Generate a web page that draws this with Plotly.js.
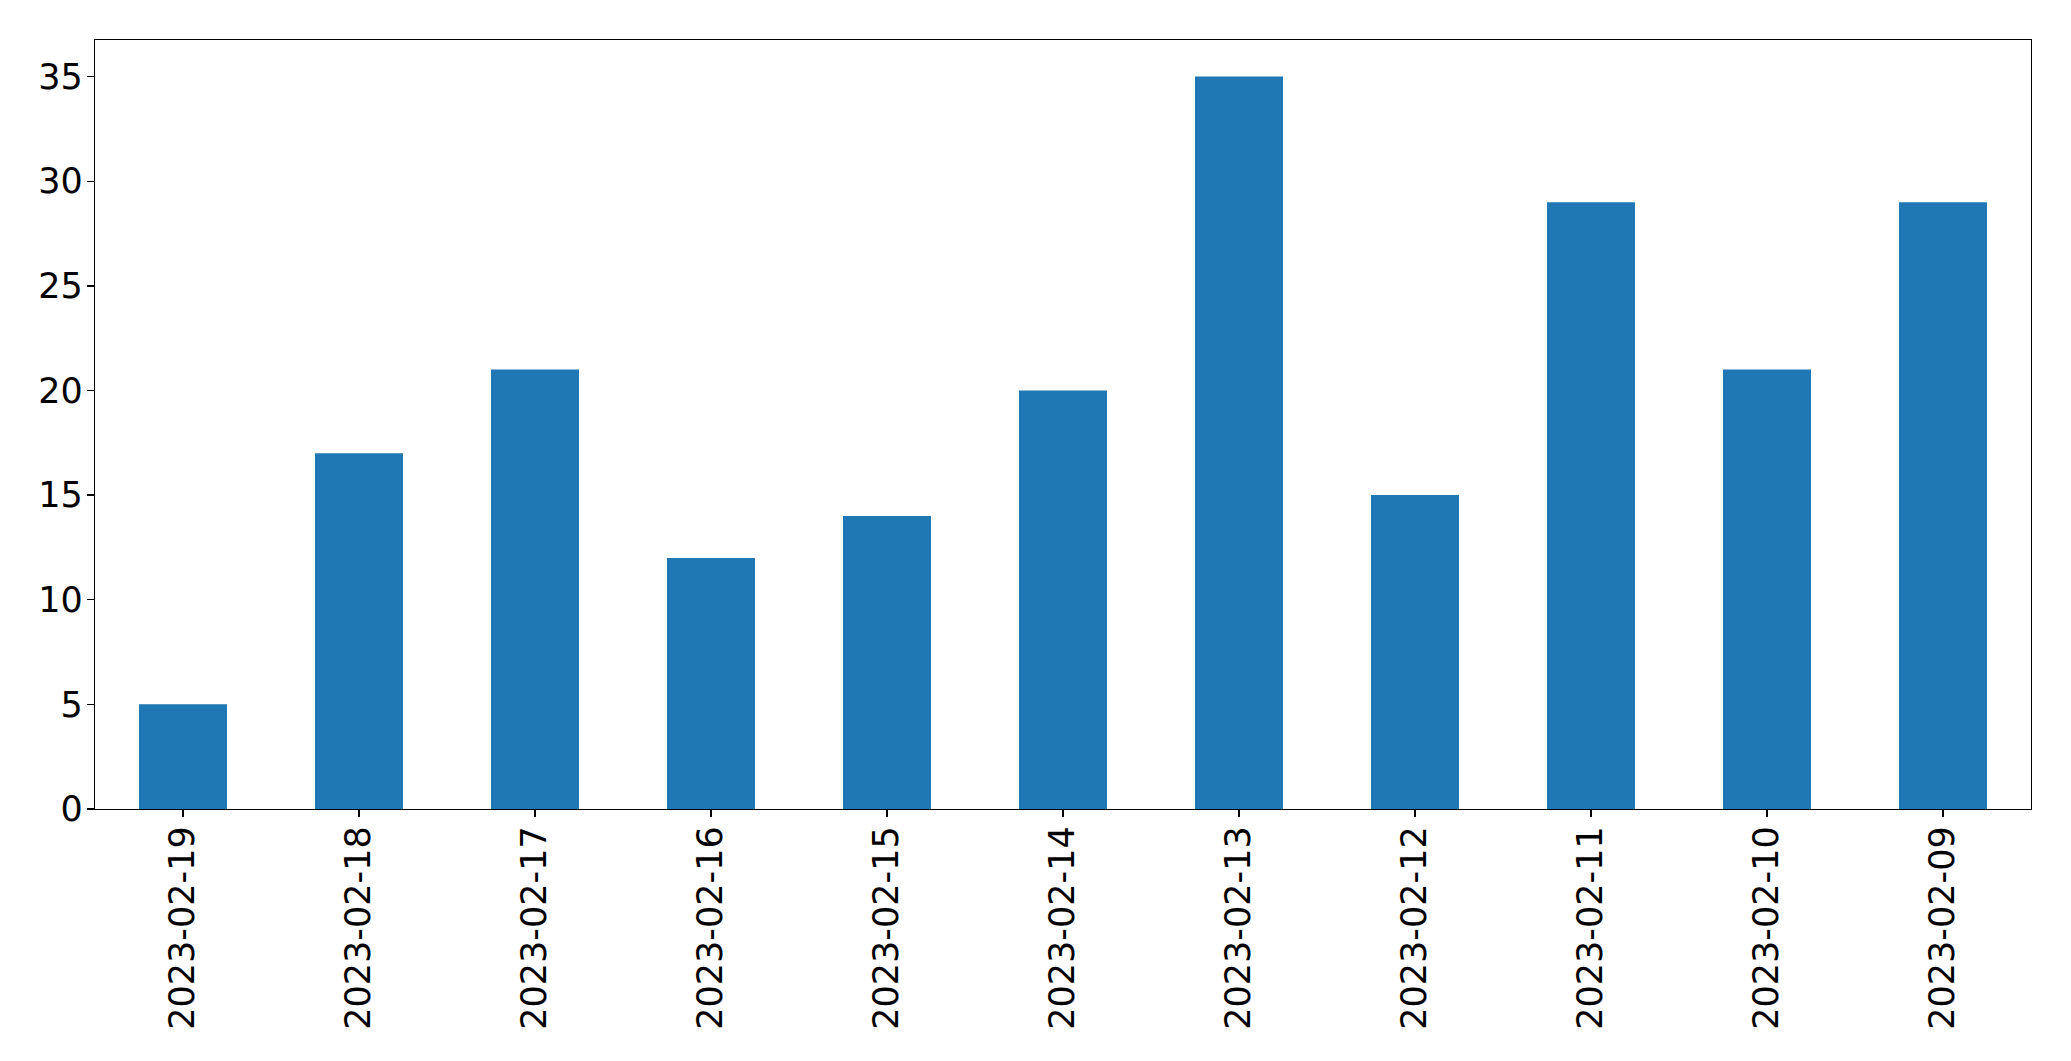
<!DOCTYPE html>
<html>
<head>
<meta charset="utf-8">
<script src="https://cdn.plot.ly/plotly-3.0.1.min.js"></script>
<style>html,body{margin:0;padding:0;background:#fff;}#chart{width:2071px;height:1061px;}</style>
</head>
<body>
<div id="chart"></div>
<script>
const dates = ["2023-02-19","2023-02-18","2023-02-17","2023-02-16","2023-02-15","2023-02-14","2023-02-13","2023-02-12","2023-02-11","2023-02-10","2023-02-09"];
const counts = [5, 17, 21, 12, 14, 20, 35, 15, 29, 21, 29];
const yTicks = [0, 5, 10, 15, 20, 25, 30, 35];

const trace = {
  type: "bar",
  x: dates,
  y: counts,
  width: 0.5,
  marker: {color: "#1f77b4", line: {width: 0}},
  hoverinfo: "x+y"
};

const layout = {
  width: 2071,
  height: 1061,
  margin: {l: 94.5, r: 39.5, t: 39.5, b: 252},
  paper_bgcolor: "#ffffff",
  plot_bgcolor: "#ffffff",
  showlegend: false,
  bargap: 0.5,
  font: {family: "DejaVu Sans", size: 35, color: "#000000"},
  xaxis: {
    type: "category",
    range: [-0.5, 10.5],
    tickangle: -90,
    ticks: "outside",
    ticklen: 7,
    tickwidth: 1.3,
    tickcolor: "#000",
    ticklabelstandoff: -5,
    showline: true,
    linecolor: "#000",
    linewidth: 1.3,
    mirror: true,
    showgrid: false,
    zeroline: false,
    tickfont: {family: "DejaVu Sans", size: 35, color: "#000"}
  },
  yaxis: {
    range: [0, 36.75],
    tickmode: "array",
    tickvals: yTicks,
    ticktext: yTicks.map(String),
    ticks: "outside",
    ticklen: 7,
    tickwidth: 1.3,
    tickcolor: "#000",
    ticklabelstandoff: -3,
    showline: true,
    linecolor: "#000",
    linewidth: 1.3,
    mirror: true,
    showgrid: false,
    zeroline: false,
    tickfont: {family: "DejaVu Sans", size: 35, color: "#000"}
  }
};

Plotly.newPlot("chart", [trace], layout, {displayModeBar: false, staticPlot: true});
</script>
</body>
</html>
